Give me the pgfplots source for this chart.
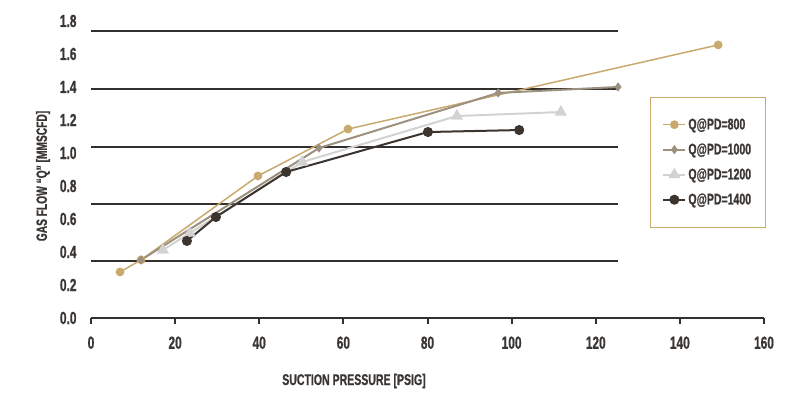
\documentclass[border=0pt]{standalone}
\usepackage{pgfplots}
\pgfplotsset{compat=1.18}
\usepackage{fontspec}
\setmainfont{Liberation Sans}[FakeStretch=0.68, BoldFeatures={FakeBold=0.8}]
\definecolor{cgold}{HTML}{C8A96E}
\definecolor{cgray}{HTML}{9C907E}
\definecolor{clight}{HTML}{D2D2D2}
\definecolor{cdark}{HTML}{3B342F}
\definecolor{ctext}{HTML}{3A3633}
\definecolor{cgrid}{HTML}{332F2C}
\begin{document}
\begin{tikzpicture}[x=1pt,y=1pt]
\path[use as bounding box] (0,0) rectangle (799,403);
\begin{axis}[
  at={(91pt,85pt)}, anchor=south west,
  scale only axis, width=673pt, height=299pt,
  xmin=0, xmax=160, ymin=0, ymax=1.812,
  axis x line=bottom, axis y line=left,
  x axis line style={-, draw=cgrid, line width=2pt},
  y axis line style={draw=none},
  xtick={0,20,...,160}, ytick={0,0.2,...,1.8},
  xtick style={draw=cgrid, line width=2pt},
  ytick style={draw=none},
  tick align=outside, major tick length=6pt,
  yticklabel style={xshift=-5pt, /pgf/number format/fixed, /pgf/number format/fixed zerofill, /pgf/number format/precision=1},
  xticklabel style={yshift=-9pt},
  ticklabel style={font=\bfseries\fontsize{17.5}{17.5}\selectfont, text=ctext},
  /pgf/number format/assume math mode=true,
  clip=false,
  legend style={at={(rel axis cs:0.8306,0.739)}, anchor=north west, draw=cgold, line width=0.8pt,
    font=\bfseries\fontsize{15.5}{15.5}\selectfont, text=ctext, inner xsep=12pt, inner ysep=19pt,
    row sep=8.5pt, cells={anchor=west}},
  legend image code/.code={\draw[mark repeat=2,mark phase=2] plot coordinates {(0pt,0pt) (11pt,0pt) (22pt,0pt)};},
]
\foreach \g in {0.345,0.691,1.039,1.388,1.739}{
  \edef\tmp{\noexpand\draw[cgrid, line width=2pt] (axis cs:0,\g) -- (axis cs:125.3,\g);}\tmp
}
\addplot[cgold, line width=1.5pt, mark=*, mark size=3.6pt, mark options={solid, fill=cgold}]
  coordinates {(6.9,0.279) (11.9,0.352) (39.7,0.861) (61.1,1.145) (149.1,1.655)};
\addlegendentry{Q@PD=800}
\addplot[cgray, line width=2pt, mark=diamond*, mark size=3pt, mark options={solid, fill=cgray}]
  coordinates {(11.9,0.352) (54.2,1.030) (96.8,1.364) (125.3,1.400)};
\addlegendentry{Q@PD=1000}
\addplot[clight, line width=2pt, mark=triangle*, mark size=5pt, mark options={solid, fill=clight}]
  coordinates {(17.1,0.412) (23.5,0.515) (50.2,0.945) (87.0,1.224) (111.7,1.248)};
\addlegendentry{Q@PD=1200}
\addplot[cdark, line width=2pt, mark=*, mark size=4pt, mark options={solid, fill=cdark}]
  coordinates {(22.8,0.467) (29.7,0.612) (46.4,0.885) (80.1,1.127) (101.8,1.139)};
\addlegendentry{Q@PD=1400}
\end{axis}
\node[font=\bfseries\fontsize{15.5}{15.5}\selectfont, text=ctext] at (354,22) {SUCTION PRESSURE [PSIG]};
\node[rotate=90, font=\bfseries\fontsize{15}{15}\selectfont, text=ctext] at (43,227) {GAS FLOW ``Q'' [MMSCFD]};
\end{tikzpicture}
\end{document}
